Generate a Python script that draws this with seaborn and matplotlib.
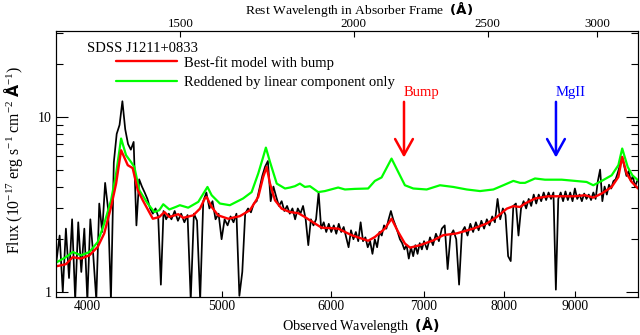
import numpy as np
import pandas as pd
import seaborn as sns
import matplotlib.pyplot as plt
from matplotlib.ticker import FixedLocator, NullLocator, FixedFormatter, NullFormatter

z_abs = 2.113
bump_rest = 2175
mgii_rest = 2800

# observed spectrum (sampled every 20 / 25 / 35 A)
wave_obs = list(range(3800, 4600, 20)) + list(range(4600, 7000, 25)) + list(range(7000, 10000, 35))
flux_obs = [
    1.5, 2.1, 1.0, 2.3, 1.2, 2.6, 0.9, 2.5, 1.3, 2.3,
    0.9, 2.6, 1.6, 0.9, 3.2, 2.2, 4.2, 3.0, 0.9, 5.5,
    8.0, 9.0, 12.3, 8.5, 7.0, 6.5, 7.2, 2.4, 4.4, 4.0,
    3.7, 3.4, 3.0, 2.8, 3.0, 2.7, 1.1, 2.9, 2.6, 2.8,
    # 4600 - 6975
    2.6, 2.9, 2.55, 2.8, 2.5, 2.75, 0.9, 2.8, 2.55, 0.9,
    3.3, 3.7, 3.0, 3.3, 2.6, 2.8, 2.0, 2.6, 2.4, 2.7,
    2.5, 2.8, 0.95, 1.3, 2.8, 3.0, 2.85, 3.2, 3.3, 3.9,
    4.6, 5.2, 5.6, 3.3, 4.0, 3.5, 3.1, 3.3, 2.9, 3.1,
    2.8, 3.0, 2.6, 3.0, 2.8, 3.1, 2.6, 1.85, 2.6, 2.4,
    2.6, 3.7, 2.3, 2.5, 2.2, 2.45, 2.2, 2.4, 2.15, 2.45,
    2.2, 2.35, 2.05, 1.8, 2.25, 2.0, 2.2, 1.95, 2.5, 1.95,
    2.05, 1.8, 1.95, 1.65, 2.0, 1.8, 2.2, 2.1, 2.4, 2.3,
    2.6, 2.9, 2.6, 2.4, 2.2, 2.0, 1.9, 1.75, 1.85, 1.55,
    1.8, 1.6, 1.85, 1.65, 1.9, 1.75,
    # 7000 - 9975
    1.95, 1.75, 2.05, 1.85, 2.15, 1.95, 2.3, 2.4, 1.35, 2.1,
    2.25, 2.0, 1.1, 2.2, 2.35, 2.1, 2.45, 2.2, 2.5, 2.25,
    2.55, 2.3, 2.6, 2.4, 2.7, 2.5, 3.4, 2.6, 3.0, 2.75,
    1.6, 1.5, 3.1, 3.2, 2.1, 3.0, 3.3, 3.0, 3.4, 3.1,
    3.6, 3.2, 3.6, 3.3, 3.7, 3.35, 3.7, 3.4, 3.7, 1.03,
    3.4, 3.7, 3.3, 3.75, 3.35, 3.7, 3.3, 3.9, 3.4, 3.6,
    3.3, 3.65, 3.4, 3.6, 3.35, 3.7, 3.4, 4.3, 5.0, 3.3,
    4.0, 3.6, 4.1, 3.9, 4.3, 4.4, 4.8, 5.3, 5.9, 5.2,
    4.6, 4.9, 4.3, 4.6, 4.0, 4.3,
]

# best-fit model with bump
wave_bump = [3797, 3860, 3904, 3958, 4014, 4070, 4114, 4161, 4196, 4231,
             4278, 4313, 4350, 4386, 4460, 4508, 4547, 4584, 4653, 4691,
             4770, 4823, 4863, 4877, 4918, 4971, 5055, 5154, 5241, 5314,
             5358, 5389, 5419, 5464, 5525, 5602, 5679, 5742, 5839, 5904,
             6069, 6206, 6379, 6451, 6559, 6632, 6706, 6781, 6839, 6953,
             7109, 7228, 7391, 7598, 7768, 7900, 8032, 8120, 8212, 8279,
             8418, 8606, 8800, 8997, 9147, 9274, 9405, 9562, 9669, 9731,
             9803, 9886, 9991]
flux_bump = [1.40, 1.44, 1.58, 1.55, 1.62, 1.81, 2.16, 3.06, 4.16, 6.45,
             5.3, 5.1, 3.81, 3.34, 2.62, 2.68, 2.86, 2.68, 2.78, 2.65,
             2.74, 2.99, 3.42, 3.49, 3.06, 2.74, 2.62, 2.71, 2.93, 3.49,
             4.54, 5.18, 4.16, 3.34, 2.99, 2.86, 2.82, 2.68, 2.46, 2.33,
             2.30, 2.11, 1.96, 2.06, 2.30, 2.62, 2.20, 1.89, 1.79, 1.85,
             1.97, 2.11, 2.16, 2.30, 2.46, 2.68, 2.99, 3.09, 3.06, 3.20,
             3.42, 3.52, 3.52, 3.52, 3.57, 3.46, 3.65, 3.98, 4.54, 5.91,
             4.75, 4.25, 3.90]

# reddened by linear component only
wave_linear = [3797, 3860, 3904, 3958, 4014, 4070, 4114, 4161, 4196, 4231,
               4266, 4301, 4325, 4361, 4422, 4471, 4508, 4538, 4584, 4634,
               4665, 4730, 4810, 4884, 4918, 4986, 5069, 5182, 5256, 5314,
               5358, 5382, 5419, 5480, 5556, 5602, 5648, 5695, 5742, 5791,
               5871, 5937, 6069, 6138, 6240, 6379, 6451, 6523, 6632, 6706,
               6781, 6876, 7031, 7188, 7349, 7515, 7683, 7855, 7986, 8120,
               8212, 8279, 8418, 8559, 8800, 8997, 9172, 9274, 9405, 9562,
               9669, 9731, 9820, 9897, 9991]
flux_linear = [1.47, 1.58, 1.69, 1.62, 1.69, 1.93, 2.46, 3.34, 4.75, 7.53,
               6.04, 5.53, 5.18, 3.81, 3.20, 2.86, 2.93, 3.17, 2.96, 3.06,
               3.13, 3.03, 3.27, 3.98, 3.57, 3.20, 3.13, 3.42, 3.72, 4.75,
               5.91, 6.68, 5.53, 4.16, 3.90, 3.95, 4.02, 4.16, 3.98, 4.02,
               3.72, 3.77, 3.95, 3.85, 3.88, 3.90, 4.31, 4.51, 5.78, 4.85,
               4.07, 3.90, 3.85, 4.07, 3.98, 3.85, 3.77, 3.85, 4.07, 4.31,
               4.20, 4.20, 4.45, 4.38, 4.38, 4.31, 4.25, 4.07, 4.31, 4.64,
               5.3, 6.6, 5.18, 4.64, 4.34]

xticks_obs = [4000, 5000, 6000, 7000, 8000, 9000]
xticks_rest = [1500, 2000, 2500, 3000]
yticks_major = [1, 10]
yticks_minor = [2, 3, 4, 5, 6, 7, 8, 9, 20, 30]
xlim_obs = (3797, 9990)
ylim = (0.935, 31)

sns.set_style('ticks', {'axes.edgecolor': 'black', 'xtick.color': 'black', 'ytick.color': 'black',
                        'text.color': 'black', 'axes.labelcolor': 'black'})
plt.rcParams['font.family'] = ['Liberation Serif', 'DejaVu Serif']
plt.rcParams['mathtext.fontset'] = 'custom'
plt.rcParams['mathtext.rm'] = 'Liberation Serif'
plt.rcParams['mathtext.it'] = 'Liberation Serif:italic'
plt.rcParams['mathtext.bf'] = 'DejaVu Sans:bold'

fig = plt.figure(figsize=(6.4, 3.35), dpi=100)
ax = fig.add_axes([0.0875, 0.1134, 0.9094, 0.7941])

sns.lineplot(x=wave_obs, y=flux_obs, ax=ax, color='black', lw=1.25, sort=False, estimator=None)
sns.lineplot(x=wave_linear, y=flux_linear, ax=ax, color='#00ff00', lw=1.6, sort=False, estimator=None)
sns.lineplot(x=wave_bump, y=flux_bump, ax=ax, color='#ff0000', lw=1.7, sort=False, estimator=None)

ax.set_xscale('log')
ax.set_yscale('log')
ax.set_xlim(*xlim_obs)
ax.set_ylim(*ylim)

ax.xaxis.set_major_locator(FixedLocator(xticks_obs))
ax.xaxis.set_major_formatter(FixedFormatter([str(t) for t in xticks_obs]))
ax.xaxis.set_minor_locator(NullLocator())
ax.yaxis.set_major_locator(FixedLocator(yticks_major))
ax.yaxis.set_major_formatter(FixedFormatter([str(t) for t in yticks_major]))
ax.yaxis.set_minor_locator(FixedLocator(yticks_minor))
ax.yaxis.set_minor_formatter(NullFormatter())
ax.tick_params(axis='x', which='major', direction='in', length=4, width=0.8, labelsize=9.8, pad=2.5, top=False)
ax.tick_params(axis='y', which='major', direction='in', length=8.5, width=0.8, labelsize=10, pad=3, right=True)
ax.tick_params(axis='y', which='minor', direction='in', length=4.7, width=0.8, right=True)
for s in ax.spines.values():
    s.set_linewidth(0.8)

ax.set_xlabel(r'Observed Wavelength  $\mathbf{(\AA)}$', fontsize=10.2)
ax.xaxis.set_label_coords(0.524, -0.066)
ax.set_ylabel(r'Flux (10$^{-17}$ erg s$^{-1}$ cm$^{-2}$ $\mathbf{\AA}^{-1}$)', fontsize=11.3)
ax.yaxis.set_label_coords(-0.054, 0.515)

# rest frame axis on top
ax2 = ax.twiny()
ax2.set_xscale('log')
ax2.set_xlim(xlim_obs[0] / (1 + z_abs), xlim_obs[1] / (1 + z_abs))
ax2.xaxis.set_major_locator(FixedLocator(xticks_rest))
ax2.xaxis.set_major_formatter(FixedFormatter([str(t) for t in xticks_rest]))
ax2.xaxis.set_minor_locator(NullLocator())
ax2.tick_params(axis='x', direction='in', length=4.5, width=0.8, labelsize=9.4, pad=0.5)
ax2.set_xlabel(r'Rest Wavelength in Absorber Frame  $\mathbf{(\AA)}$', fontsize=9.7)
ax2.xaxis.set_label_coords(0.521, 1.063)
for s in ax2.spines.values():
    s.set_linewidth(0.8)

ax.text(0.0527, 0.934, 'SDSS J1211+0833', transform=ax.transAxes, ha='left', va='center', fontsize=10.5)
lines = ax.get_lines()
ax.legend(handles=[lines[2], lines[1]],
          labels=['Best-fit model with bump', 'Reddened by linear component only'],
          loc='upper left', bbox_to_anchor=(0.103, 0.907), frameon=False, borderpad=0,
          borderaxespad=0, handlelength=4.2, handletextpad=0.45, labelspacing=0.43, fontsize=10.5)

# feature markers
for rest, name, col in [(bump_rest, 'Bump', 'red'), (mgii_rest, 'MgII', 'blue')]:
    xobs = rest * (1 + z_abs)
    ax.annotate('', xy=(xobs, 5.86), xytext=(xobs, 12.2),
                arrowprops=dict(arrowstyle='->,head_length=1.15,head_width=0.64', color=col,
                                lw=1.8, shrinkA=0, shrinkB=0))
    ax.text(xobs, 13.8, name, color=col, ha='left', va='center', fontsize=10.5)

fig.savefig('out.png', dpi=100)
